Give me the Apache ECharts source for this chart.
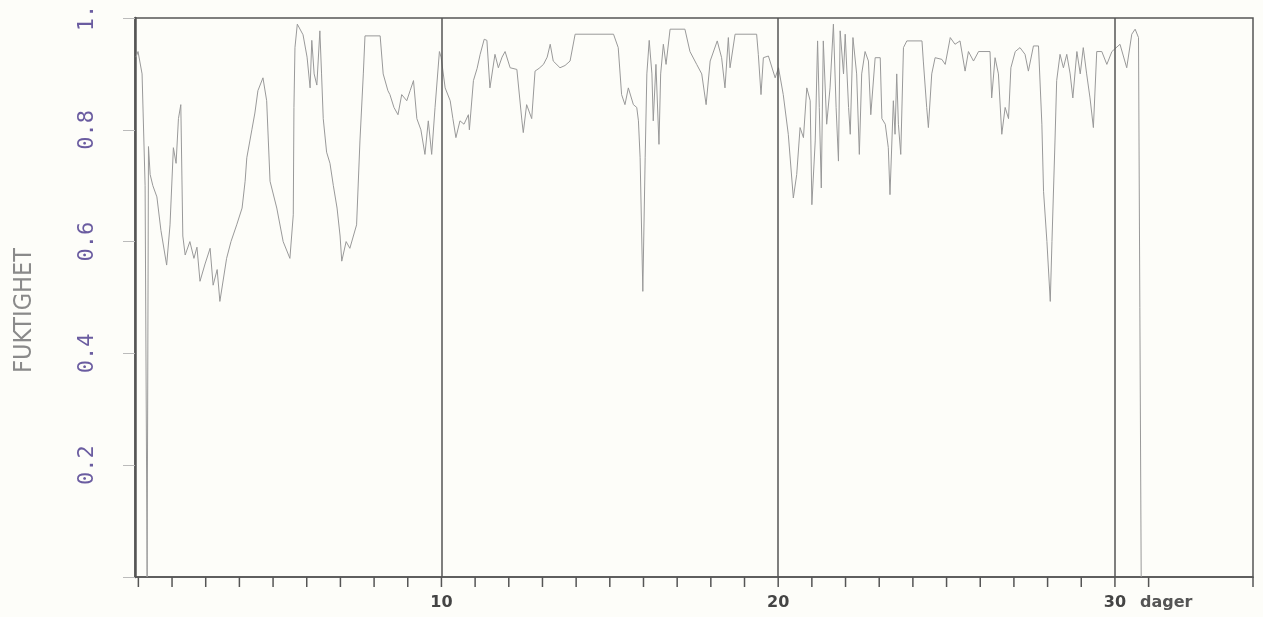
<!DOCTYPE html>
<html>
<head>
<meta charset="utf-8">
<script src="https://cdn.jsdelivr.net/npm/echarts@6/dist/echarts.min.js"></script>
<style>
html,body{margin:0;padding:0;background:#fdfdf9;}
#chart{width:1263px;height:617px;}
</style>
</head>
<body>
<div id="chart"></div>
<script>
// time in days (x) and humidity (y)
const days = [0.93,0.99,1.11,1.20,1.26,1.30,1.35,1.43,1.55,1.67,1.84,1.94,2.04,2.12,2.19,2.26,2.32,2.39,2.53,2.65,2.74,2.83,2.98,3.13,3.22,3.34,3.42,3.62,3.75,3.92,4.08,4.17,4.22,4.37,4.46,4.55,4.70,4.81,4.91,5.11,5.30,5.50,5.60,5.62,5.65,5.72,5.89,6.01,6.10,6.15,6.22,6.30,6.39,6.44,6.49,6.59,6.69,6.79,6.90,6.99,7.04,7.17,7.28,7.48,7.58,7.68,7.73,8.18,8.27,8.41,8.47,8.59,8.71,8.82,8.97,9.07,9.17,9.27,9.39,9.51,9.61,9.71,9.81,9.94,9.99,10.11,10.26,10.34,10.43,10.55,10.67,10.80,10.83,10.95,11.06,11.15,11.27,11.35,11.44,11.59,11.69,11.80,11.89,12.04,12.24,12.39,12.43,12.53,12.68,12.78,12.90,13.03,13.14,13.23,13.32,13.52,13.67,13.82,13.97,15.11,15.25,15.35,15.45,15.55,15.70,15.80,15.85,15.90,15.98,16.05,16.10,16.17,16.25,16.29,16.37,16.46,16.51,16.59,16.67,16.79,17.23,17.38,17.58,17.73,17.86,17.98,18.19,18.32,18.42,18.52,18.57,18.72,19.36,19.41,19.49,19.56,19.71,19.91,20.01,20.15,20.30,20.45,20.55,20.65,20.75,20.85,20.95,21.00,21.10,21.17,21.22,21.28,21.34,21.44,21.54,21.64,21.72,21.79,21.84,21.94,21.99,22.09,22.14,22.22,22.33,22.41,22.48,22.58,22.68,22.75,22.88,23.03,23.08,23.18,23.27,23.32,23.42,23.47,23.52,23.57,23.64,23.72,23.82,24.27,24.31,24.41,24.46,24.56,24.66,24.86,24.96,25.11,25.25,25.40,25.55,25.65,25.80,25.95,26.29,26.34,26.44,26.54,26.64,26.74,26.84,26.91,27.04,27.18,27.33,27.43,27.58,27.73,27.83,27.88,27.98,28.08,28.13,28.22,28.27,28.37,28.47,28.57,28.67,28.75,28.87,28.97,29.06,29.16,29.26,29.36,29.46,29.61,29.76,29.91,30.15,30.35,30.50,30.60,30.70,30.78];
const humidity = [0.93,0.94,0.90,0.70,0.00,0.77,0.72,0.70,0.68,0.62,0.558,0.63,0.768,0.74,0.82,0.845,0.61,0.576,0.60,0.57,0.59,0.529,0.56,0.588,0.522,0.55,0.493,0.57,0.60,0.63,0.66,0.708,0.75,0.80,0.83,0.87,0.893,0.852,0.708,0.66,0.60,0.57,0.648,0.84,0.947,0.989,0.97,0.93,0.875,0.96,0.90,0.88,0.977,0.90,0.82,0.76,0.74,0.70,0.66,0.61,0.565,0.60,0.588,0.63,0.78,0.90,0.968,0.968,0.90,0.87,0.863,0.84,0.827,0.863,0.852,0.87,0.888,0.82,0.80,0.756,0.816,0.756,0.84,0.94,0.93,0.875,0.852,0.82,0.786,0.816,0.81,0.827,0.80,0.888,0.91,0.935,0.962,0.96,0.875,0.935,0.911,0.93,0.94,0.911,0.908,0.816,0.795,0.845,0.82,0.905,0.91,0.917,0.93,0.953,0.923,0.911,0.915,0.923,0.971,0.971,0.947,0.863,0.845,0.875,0.845,0.84,0.816,0.75,0.511,0.75,0.90,0.96,0.90,0.816,0.917,0.774,0.90,0.953,0.917,0.98,0.98,0.94,0.917,0.90,0.845,0.923,0.959,0.929,0.875,0.965,0.911,0.971,0.971,0.935,0.863,0.929,0.932,0.893,0.911,0.863,0.792,0.678,0.72,0.804,0.786,0.875,0.852,0.666,0.78,0.959,0.84,0.696,0.959,0.81,0.875,0.989,0.84,0.744,0.977,0.90,0.971,0.84,0.792,0.965,0.90,0.756,0.90,0.94,0.923,0.827,0.929,0.929,0.82,0.81,0.768,0.684,0.852,0.792,0.90,0.81,0.756,0.947,0.959,0.959,0.923,0.84,0.804,0.90,0.929,0.926,0.917,0.965,0.953,0.959,0.905,0.94,0.923,0.94,0.94,0.857,0.929,0.90,0.792,0.84,0.82,0.911,0.94,0.947,0.935,0.905,0.95,0.95,0.81,0.69,0.60,0.493,0.60,0.78,0.888,0.935,0.911,0.935,0.90,0.857,0.94,0.90,0.947,0.90,0.857,0.804,0.94,0.94,0.917,0.94,0.953,0.911,0.971,0.98,0.965,0.00];

// axis ticks and labels
const tickDays = [1,2,3,4,5,6,7,8,9,10,11,12,13,14,15,16,17,18,19,20,21,22,23,24,25,26,27,28,29,30,31,34.1];
const majorDays = [10, 20, 30];
const majorLabels = ['10', '20', '30'];
const unitLabel = 'dager';
const yTicks = [0, 0.2, 0.4, 0.6, 0.8, 1.0];
const yTitle = 'FUKTIGHET';

const frame = '#555';
const chart = echarts.init(document.getElementById('chart'));
chart.setOption({
  animation: false,
  backgroundColor: '#fdfdf9',
  grid: { left: 135, right: 10, top: 18, bottom: 40, show: true, borderColor: frame, borderWidth: 1.5 },
  xAxis: {
    type: 'value', min: 0.9, max: 34.1,
    axisLine: { show: true, lineStyle: { color: frame, width: 1.5 } },
    axisTick: { show: false }, axisLabel: { show: false }, splitLine: { show: false }
  },
  yAxis: {
    type: 'value', min: yTicks[0], max: yTicks[yTicks.length - 1], interval: 0.2,
    name: yTitle, nameLocation: 'middle', nameGap: 98, nameRotate: 90,
    nameTextStyle: { fontFamily: 'DejaVu Sans Condensed', fontSize: 25, color: '#8a8a8a', padding: [0, 26, 0, 0] },
    axisLine: { show: true, lineStyle: { color: frame, width: 2.5 } },
    axisTick: { show: true, length: 12, lineStyle: { color: '#bbb', width: 1 } },
    axisLabel: {
      rotate: 90, margin: 37, fontFamily: 'DejaVu Sans Mono', fontSize: 22, color: '#6a5ca0',
      formatter: v => v === 0 ? '' : (v === 1 ? '1.' : v.toFixed(1))
    },
    splitLine: { show: false }
  },
  series: [
    {
      type: 'line', data: days.map((d, i) => [d, humidity[i]]),
      showSymbol: false, symbol: 'none',
      lineStyle: { color: '#999', width: 1 },
      markLine: {
        silent: true, symbol: 'none', label: { show: false },
        lineStyle: { color: frame, width: 1.5, type: 'solid' },
        data: majorDays.map(d => ({ xAxis: d }))
      }
    },
    {
      type: 'custom', clip: false, silent: true,
      data: tickDays.map(d => [d, 0]),
      renderItem: function (params, api) {
        const d = api.value(0);
        const p = api.coord([d, 0]);
        const children = [{
          type: 'line',
          shape: { x1: p[0], y1: p[1], x2: p[0], y2: p[1] + 10 },
          style: { stroke: frame, lineWidth: 1.5 }
        }];
        const k = majorDays.indexOf(d);
        if (k >= 0) {
          children.push({
            type: 'text',
            style: { x: p[0], y: p[1] + 26, text: majorLabels[k], align: 'center', verticalAlign: 'middle',
                     font: 'bold 16px "DejaVu Sans"', fill: '#444' }
          });
          if (k === majorDays.length - 1) {
            children.push({
              type: 'text',
              style: { x: p[0] + 25, y: p[1] + 26, text: unitLabel, align: 'left', verticalAlign: 'middle',
                       font: 'bold 16px "DejaVu Sans"', fill: '#555' }
            });
          }
        }
        return { type: 'group', children: children };
      }
    }
  ]
});
</script>
</body>
</html>
